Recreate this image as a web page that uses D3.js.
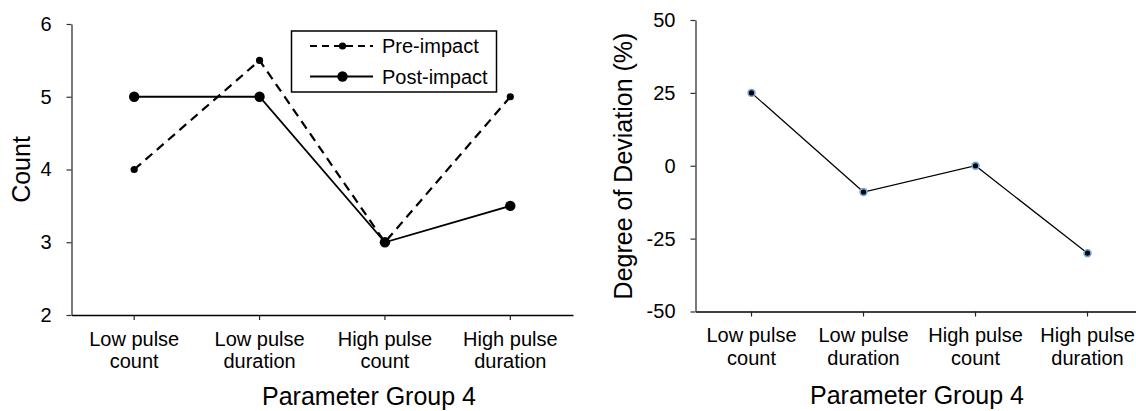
<!DOCTYPE html>
<meta charset="utf-8">
<style>
  body { margin: 0; background: #fff; }
  text { font-family: "Liberation Sans", Arial, sans-serif; fill: #000; }
  .tick text { font-size: 20px; }
  .title { font-size: 25px; }
  .legend text { font-size: 20px; }
</style>
<svg width="1136" height="411"></svg>
<script src="https://d3js.org/d3.v7.min.js"></script>
<script>
var categories = ["Low pulse count", "Low pulse duration", "High pulse count", "High pulse duration"];
var preImpact = [4, 5.5, 3, 5];
var postImpact = [5, 5, 3, 3.5];
var deviation = [25, -9, 0, -30];
var countTicks = [2, 3, 4, 5, 6];
var deviationTicks = [-50, -25, 0, 25, 50];

var svg = d3.select("svg");

// split "Low pulse count" -> ["Low pulse", "count"]
function labelLines(s) {
  var w = s.split(" ");
  return [w.slice(0, 2).join(" "), w.slice(2).join(" ")];
}

function categoryAxis(g, x) {
  g.call(d3.axisBottom(x).tickSize(5).tickSizeOuter(0));
  g.select(".domain").attr("stroke", "#000").attr("stroke-width", 1.5);
  g.selectAll(".tick line").attr("stroke", "#222").attr("stroke-width", 1.2);
  g.selectAll(".tick text").each(function(d) {
    var t = d3.select(this).text(null).attr("y", 0).attr("dy", null);
    labelLines(d).forEach(function(line, i) {
      t.append("tspan").attr("x", 0).attr("y", i === 0 ? 30.7 : 53.3).text(line);
    });
  });
}

function valueAxis(g, y, ticks) {
  g.call(d3.axisLeft(y).tickValues(ticks).tickFormat(function(d) { return String(d); })
      .tickSize(5).tickPadding(15).tickSizeOuter(0));
  g.select(".domain").attr("stroke", "#333").attr("stroke-width", 1.3);
  g.selectAll(".tick line").attr("stroke", "#333").attr("stroke-width", 1.2);
}

/* ---------- left chart ---------- */
var x1 = d3.scaleBand().domain(categories).range([71.5, 573]);
var y1 = d3.scaleLinear().domain([2, 6]).range([315, 24]);
var cx1 = function(d, i) { return x1(categories[i]) + x1.bandwidth() / 2; };

svg.append("g").attr("transform", "translate(0,315)").call(categoryAxis, x1);
svg.append("g").attr("transform", "translate(71.5,0)").call(valueAxis, y1, countTicks);

var line1 = d3.line().x(cx1).y(function(d) { return y1(d); });

svg.append("path").datum(preImpact)
    .attr("d", line1).attr("fill", "none")
    .attr("stroke", "#000").attr("stroke-width", 2.2).attr("stroke-dasharray", "9,6");
svg.append("path").datum(postImpact)
    .attr("d", line1).attr("fill", "none")
    .attr("stroke", "#000").attr("stroke-width", 1.8);

svg.append("g").selectAll("circle").data(preImpact).enter().append("circle")
    .attr("cx", cx1).attr("cy", function(d) { return y1(d); }).attr("r", 3.6);
svg.append("g").selectAll("circle").data(postImpact).enter().append("circle")
    .attr("cx", cx1).attr("cy", function(d) { return y1(d); }).attr("r", 5.2);

svg.append("text").attr("class", "title")
    .attr("transform", "translate(30,169.5) rotate(-90)")
    .attr("text-anchor", "middle").text("Count");
svg.append("text").attr("class", "title")
    .attr("x", 369).attr("y", 405).attr("text-anchor", "middle").text("Parameter Group 4");

// legend
var legend = svg.append("g").attr("class", "legend");
legend.append("rect").attr("x", 291.5).attr("y", 31).attr("width", 205).attr("height", 61)
    .attr("fill", "#fff").attr("stroke", "#000").attr("stroke-width", 1.5);
var legendItems = [
  {name: "Pre-impact", dash: "7,5", r: 3.6, w: 2.2, y: 46},
  {name: "Post-impact", dash: null, r: 5.2, w: 1.8, y: 76.5}
];
legendItems.forEach(function(it) {
  legend.append("line").attr("x1", 310).attr("x2", 373).attr("y1", it.y).attr("y2", it.y)
      .attr("stroke", "#000").attr("stroke-width", it.w).attr("stroke-dasharray", it.dash);
  legend.append("circle").attr("cx", 342.5).attr("cy", it.y).attr("r", it.r);
  legend.append("text").attr("x", 382).attr("y", it.y).attr("dy", "0.35em").text(it.name);
});

/* ---------- right chart ---------- */
var x2 = d3.scaleBand().domain(categories).range([695.5, 1143.5]);
var y2 = d3.scaleLinear().domain([-50, 50]).range([311.5, 20]);
var cx2 = function(d, i) { return x2(categories[i]) + x2.bandwidth() / 2; };

svg.append("g").attr("transform", "translate(0,311.5)").call(categoryAxis, x2);
svg.append("g").attr("transform", "translate(695.5,0)").call(valueAxis, y2, deviationTicks);

var line2 = d3.line().x(cx2).y(function(d) { return y2(d); });
svg.append("path").datum(deviation)
    .attr("d", line2).attr("fill", "none")
    .attr("stroke", "#000").attr("stroke-width", 1.2);
svg.append("g").selectAll("circle").data(deviation).enter().append("circle")
    .attr("cx", cx2).attr("cy", function(d) { return y2(d); }).attr("r", 3.4)
    .attr("fill", "#000").attr("stroke", "#6fa8dc").attr("stroke-width", 1.6);

svg.append("text").attr("class", "title")
    .attr("transform", "translate(632,166) rotate(-90)")
    .attr("text-anchor", "middle").text("Degree of Deviation (%)");
svg.append("text").attr("class", "title")
    .attr("x", 917).attr("y", 404).attr("text-anchor", "middle").text("Parameter Group 4");
</script>
